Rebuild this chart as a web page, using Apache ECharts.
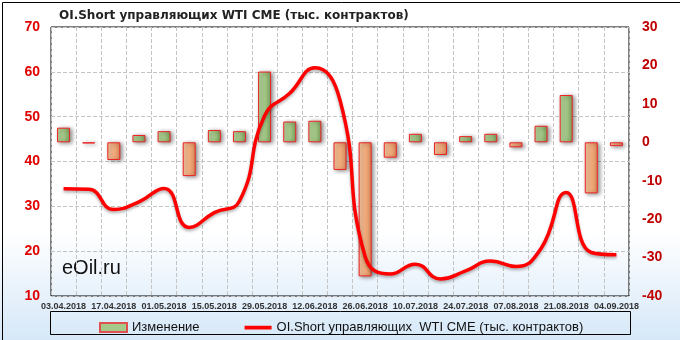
<!DOCTYPE html>
<html><head><meta charset="utf-8">
<script src="https://cdn.jsdelivr.net/npm/echarts@6/dist/echarts.min.js"></script>
<style>html,body{margin:0;padding:0;}#c{width:680px;height:340px;}</style>
</head><body><div id="c"></div>
<script>
const dates = ['03.04.2018','10.04.2018','17.04.2018','24.04.2018','01.05.2018','08.05.2018','15.05.2018','22.05.2018','29.05.2018','05.06.2018','12.06.2018','19.06.2018','26.06.2018','03.07.2018','10.07.2018','17.07.2018','24.07.2018','31.07.2018','07.08.2018','14.08.2018','21.08.2018','28.08.2018','04.09.2018'];
const shortOI = [33.9, 33.8, 29.3, 31.0, 34.0, 25.3, 28.6, 31.2, 50.2, 55.2, 60.9, 53.7, 18.8, 14.9, 17.1, 13.8, 15.6, 17.8, 16.6, 20.6, 33.1, 19.7, 19.2];
const change = [3.8, -0.3, -4.6, 1.9, 2.9, -8.8, 3.2, 2.9, 18.4, 5.4, 5.6, -7.2, -34.9, -4.0, 2.2, -3.3, 1.6, 2.2, -1.3, 4.3, 12.3, -13.3, -1.0];
const leftTicks = {min: 10, max: 70, interval: 10};
const rightTicks = {min: -40, max: 30, interval: 10};
const titleText = 'OI.Short управляющих WTI CME (тыс. контрактов)';
const barName = 'Изменение';
const lineName = 'OI.Short управляющих  WTI CME (тыс. контрактов)';

const greenGrad = {type:'linear',x:0,y:0,x2:1,y2:0,colorStops:[{offset:0,color:'#b9d89f'},{offset:0.5,color:'#a5c988'},{offset:1,color:'#7a9f5c'}]};
const orangeGrad = {type:'linear',x:0,y:0,x2:1,y2:0,colorStops:[{offset:0,color:'#f9cba3'},{offset:0.5,color:'#f3ad7e'},{offset:1,color:'#d88a58'}]};
const lineIcon = 'path://M0,0L0.01,0L0.01,0.01ZM0,9L0.01,9L0.01,8.99ZM0,2.8H27V6.4H0Z';
const barIcon = 'path://M0,0H27V9H0Z';

const chart = echarts.init(document.getElementById('c'), null, {renderer:'canvas'});
chart.setOption({
  animation:false,
  backgroundColor:{type:'linear',x:0,y:0,x2:0,y2:1,colorStops:[{offset:0,color:'#ffffff'},{offset:0.68,color:'#ffffff'},{offset:1,color:'#d6e8f8'}]},
  title:{text:titleText,left:54,top:5,textStyle:{fontFamily:'DejaVu Sans',fontWeight:'bold',fontSize:12,color:'#222'}},
  grid:{left:51,right:51,top:27,bottom:44,show:true,borderColor:'#000',borderWidth:1,backgroundColor:'transparent'},
  legend:{left:94,top:316,itemGap:45,itemWidth:27,itemHeight:9,
    textStyle:{fontFamily:'Liberation Sans',fontSize:13,color:'#111'},
    data:[{name:barName,icon:barIcon,itemStyle:{color:'#a5c988',borderColor:'#e05050',borderWidth:2}},
          {name:lineName,icon:lineIcon,itemStyle:{color:'#ff0000',borderWidth:0}}]},
  xAxis:{type:'category',data:dates,boundaryGap:true,
    axisLine:{show:false},axisTick:{show:false},
    axisLabel:{interval:1,margin:6,fontFamily:'Liberation Sans',fontWeight:'bold',fontSize:9,color:'#333'},
    splitLine:{show:true,interval:0,lineStyle:{type:'dashed',color:'#c4c4c4'}}},
  yAxis:[
    {type:'value',min:leftTicks.min,max:leftTicks.max,interval:leftTicks.interval,position:'left',
     axisLine:{show:false},axisTick:{show:false},
     axisLabel:{margin:11,fontFamily:'Liberation Sans',fontWeight:'bold',fontSize:14,color:'#e00000'},
     splitLine:{show:true,lineStyle:{type:'dashed',color:'#c4c4c4'}}},
    {type:'value',min:rightTicks.min,max:rightTicks.max,interval:rightTicks.interval,position:'right',
     axisLine:{show:false},axisTick:{show:false},
     axisLabel:{margin:13,fontFamily:'Liberation Sans',fontWeight:'bold',fontSize:14,color:'#c00000'},
     splitLine:{show:false}}
  ],
  series:[
    {name:barName,type:'bar',yAxisIndex:1,barWidth:13,z:2,
     data:change.map(v=>({value:v,itemStyle:{color:v>=0?greenGrad:orangeGrad,shadowColor:'rgba(0,0,0,0.45)',shadowBlur:4,shadowOffsetX:2,shadowOffsetY:1}})),
     itemStyle:{color:'#a5c988',borderColor:'#ee2222',borderWidth:1}},
    {name:lineName,type:'line',yAxisIndex:0,data:shortOI,smooth:0.5,symbol:'none',showSymbol:false,z:3,
     lineStyle:{color:'#ff0000',width:3.5,shadowColor:'rgba(0,0,0,0.3)',shadowBlur:3,shadowOffsetY:2},
     itemStyle:{color:'#ff0000'}}
  ],
  graphic:[
    {type:'rect',left:0,top:0,shape:{x:0.5,y:0.5,width:679,height:339},style:{fill:'none',stroke:'#000',lineWidth:1},silent:true},
    {type:'rect',shape:{x:50.5,y:311.5,width:580,height:23},style:{fill:'none',stroke:'#000',lineWidth:1},silent:true},
    {type:'text',left:62,top:258,style:{text:'eOil.ru',fontFamily:'Liberation Sans',fontSize:20,fill:'#111'},silent:true}
  ]
});
</script></body></html>
